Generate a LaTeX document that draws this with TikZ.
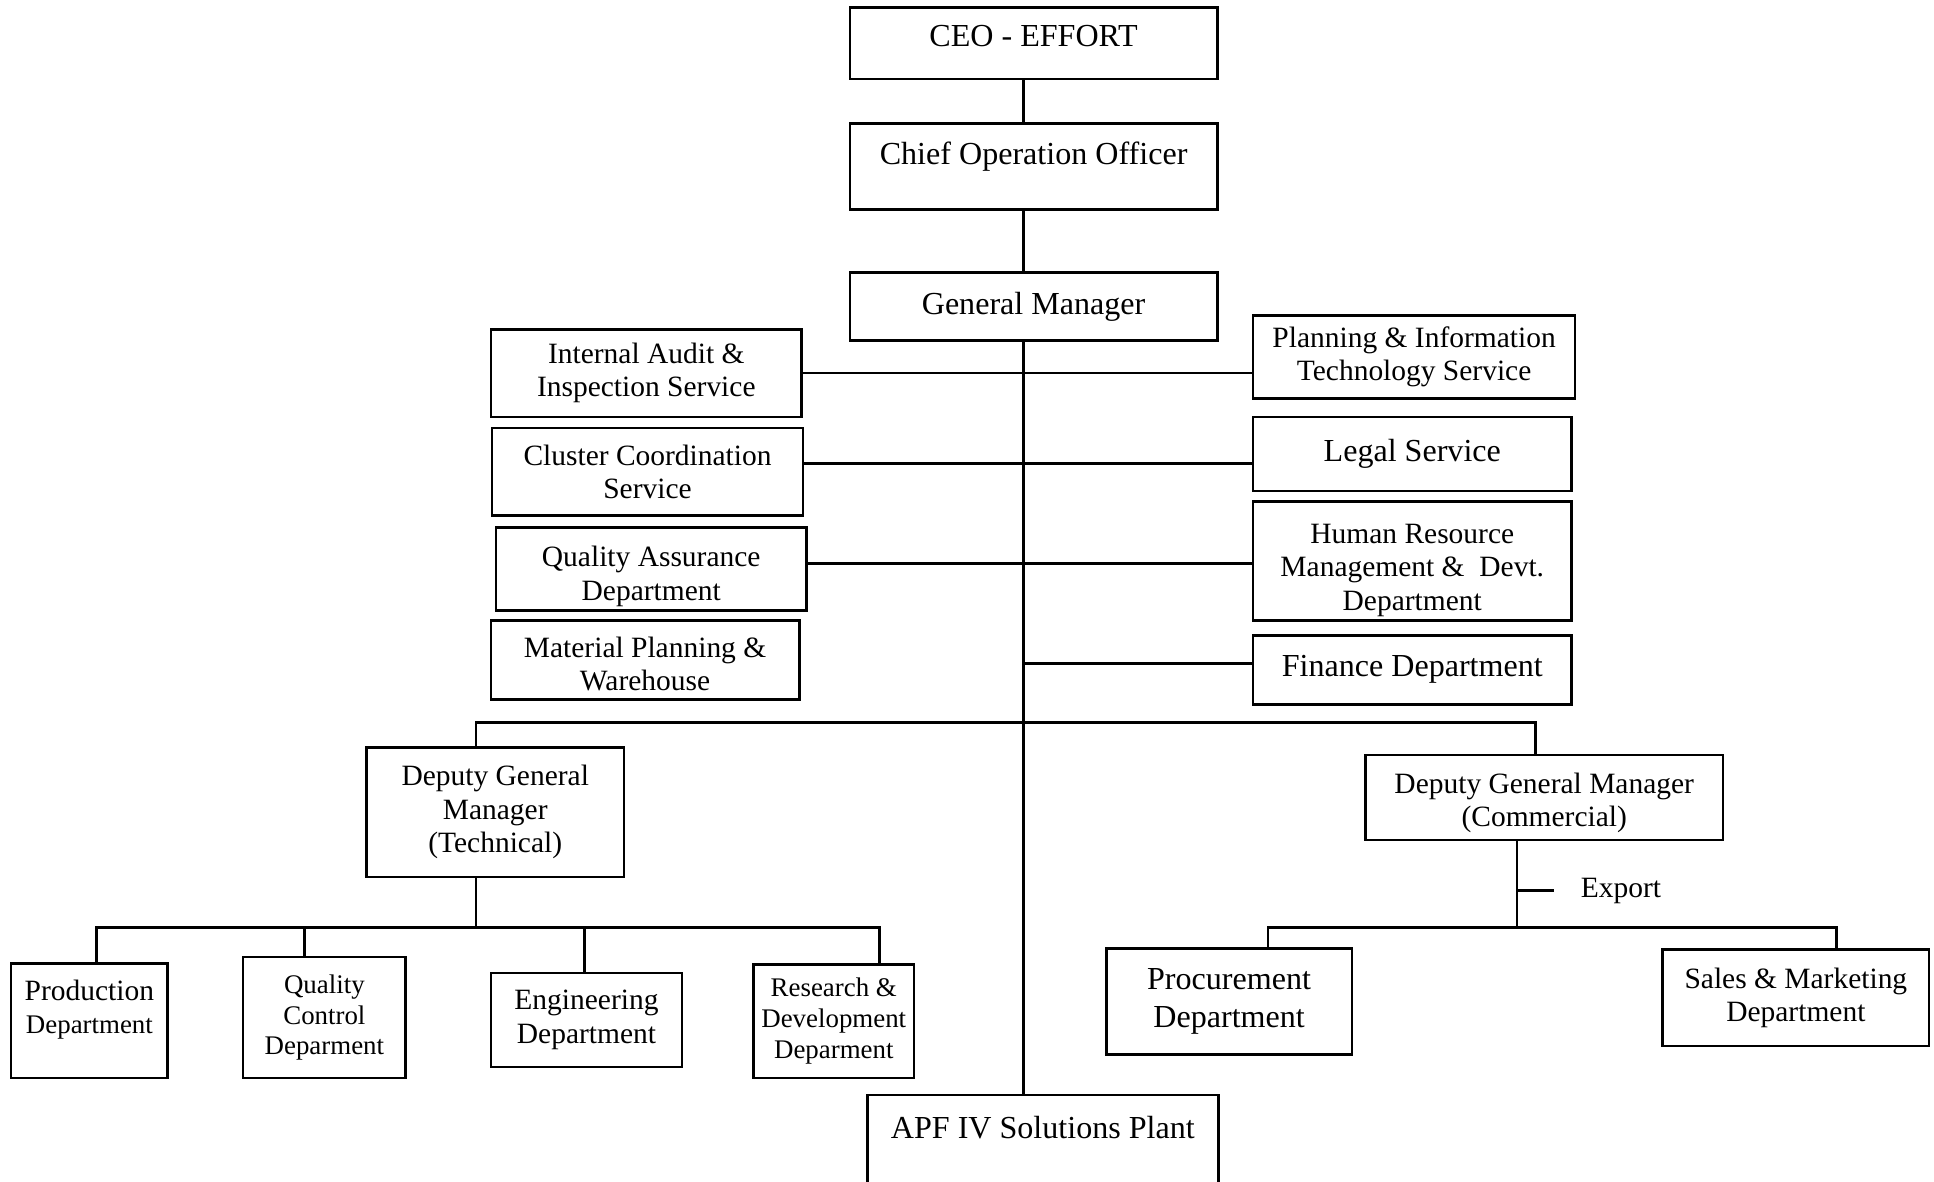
\documentclass[tikz,border=0pt]{standalone}
\usepackage{fontspec}
\setmainfont{Liberation Serif}
\usetikzlibrary{positioning, calc}
\tikzset{
  orgbox/.style={draw, line width=0.6pt, align=center, inner sep=1pt},
  sz/.style 2 args={minimum width=#1*0.1mm, minimum height=#2*0.1mm},
  bigtxt/.style={font=\fontsize{7.4}{8.8}\selectfont},
  midtxt/.style={font=\fontsize{6.8}{7.7}\selectfont},
  smalltxt/.style={font=\fontsize{6.2}{7.1}\selectfont},
  link/.style={line width=0.6pt},
}
\newcommand{\smallsz}{\fontsize{6.2}{7.1}\selectfont}

\begin{document}
\begin{tikzpicture}[x=0.1mm, y=-0.1mm]
  \useasboundingbox (0,0) rectangle (1568,958);
  \clip (0,0) rectangle (1568,958);

  % top of the chain
  \node[orgbox, bigtxt, sz={298}{58}, text depth=3.2pt] (ceo) at (838,35) {CEO - EFFORT};
  \node[orgbox, bigtxt, sz={298}{70}, text height=5.5pt, text depth=6.6pt] (coo) at (838,135) {Chief Operation Officer};
  \node[orgbox, bigtxt, sz={298}{55}] (gm) at (838,248.5) {General Manager};

  % services, left side
  \node[orgbox, midtxt, sz={252}{71}] (audit) at (524,302.5) {Internal Audit \&\\Inspection Service};
  \node[orgbox, midtxt, sz={252}{71}] (cluster) at (525,382.5) {Cluster Coordination\\Service};
  \node[orgbox, midtxt, sz={252}{65}, text height=15.7pt] (qa) at (528,461.5) {Quality Assurance\\Department};
  \node[orgbox, midtxt, sz={250}{64}, text height=14.3pt] (mpw) at (523,535) {Material Planning \&\\Warehouse};

  % services, right side
  \node[orgbox, midtxt, sz={261}{67}] (pits) at (1146.5,289.5) {Planning \& Information\\Technology Service};
  \node[orgbox, bigtxt, sz={258}{60}] (legal) at (1145,368) {Legal Service};
  \node[orgbox, midtxt, sz={258}{94}, text height=24pt] (hrm) at (1145,455) {Human Resource\\Management \&\ \ Devt.\\Department};
  \node[orgbox, bigtxt, sz={258}{56}] (fin) at (1145,543) {Finance Department};

  % deputies
  \node[orgbox, midtxt, sz={209}{105}] (dgmt) at (401.5,658.5) {Deputy General\\Manager\\(Technical)};
  \node[orgbox, midtxt, sz={290}{69}, text height=15.1pt] (dgmc) at (1252,646.5) {Deputy General Manager\\(Commercial)};

  % technical departments
  \node[orgbox, midtxt, sz={127}{93}, text depth=6.4pt] (prod) at (72.5,827.5) {Production\\{\smallsz Department}};
  \node[orgbox, smalltxt, sz={132}{98}] (qc) at (263,825) {Quality\\Control\\Deparment};
  \node[orgbox, midtxt, sz={155}{76}] (eng) at (475.5,827) {Engineering\\Department};
  \node[orgbox, smalltxt, sz={130}{92}] (rnd) at (676,828) {Research \&\\Development\\Deparment};

  % commercial departments
  \node[orgbox, bigtxt, sz={199}{86}] (proc) at (996.5,812) {Procurement\\Department};
  \node[orgbox, midtxt, sz={216}{78}] (sales) at (1456,809) {Sales \& Marketing\\Department};

  % plant (box runs off the page)
  \node[bigtxt, sz={283}{51}] (apf) at (845.5,914) {APF IV Solutions Plant};
  \draw[link] ($(apf.south west)+(0,60)$) -- (apf.north west) -- (apf.north east) -- ($(apf.south east)+(0,60)$);

  % main spine
  \coordinate (spine) at (830,0);
  \draw[link] (ceo.south -| spine) -- (coo.north -| spine);
  \draw[link] (coo.south -| spine) -- (gm.north -| spine);
  \draw[link] (gm.south -| spine) -- (apf.north -| spine);

  % staff lines
  \draw[link] (audit.east) -- (audit.east -| pits.west);
  \draw[link] (cluster.east |- 0,376) -- (legal.west |- 0,376);
  \draw[link] (qa.east |- 0,457) -- (hrm.west |- 0,457);
  \draw[link] (spine |- 0,538) -- (fin.west |- 0,538);

  % deputies bus
  \coordinate (busT) at (830,586);
  \draw[link] (dgmt.north -| 386,0) |- (busT) -| (dgmc.north -| 1245,0);

  % technical bus
  \coordinate (busL) at (386,752);
  \draw[link] (dgmt.south -| busL) -- (busL);
  \draw[link] (prod.north -| 78,0) |- (busL) -| (rnd.north -| 713,0);
  \foreach \dept/\x in {qc/247, eng/474}
    \draw[link] (\dept.north -| \x,0) -- (busL -| \x,0);

  % commercial bus
  \coordinate (busR) at (1230,752);
  \draw[link] (dgmc.south -| busR) -- (busR);
  \draw[link] (proc.north -| 1028,0) |- (busR) -| (sales.north -| 1489,0);
  \node[midtxt, anchor=west, inner sep=0pt] (export) at (1281,722) {Export};
  \draw[link] (busR |- export.west) -- ++(30,0);
\end{tikzpicture}
\end{document}
